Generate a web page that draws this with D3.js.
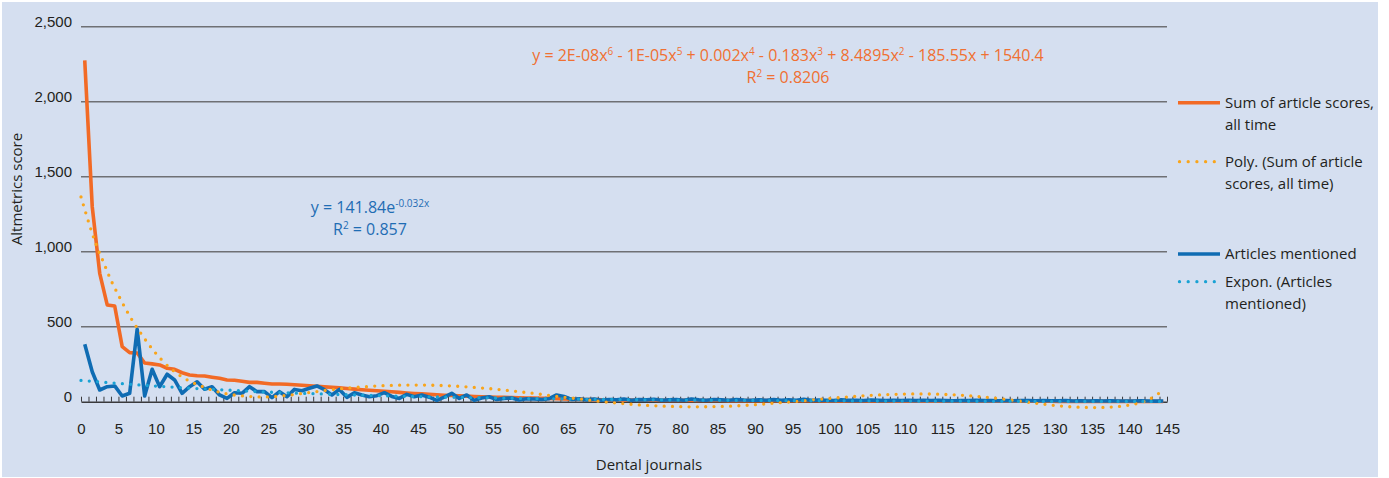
<!DOCTYPE html>
<html>
<head>
<meta charset="utf-8">
<script src="https://cdn.jsdelivr.net/npm/d3@7"></script>
<style>
  body { margin: 0; background: #ffffff; }
  svg { display: block; font-family: "Open Sans", sans-serif; }
  .tick text { fill: #231f20; font-size: 15px; }
</style>
</head>
<body>
<div class="chart"></div>
<script>
// journals are numbered 1..145 along the category axis
var journalIndex = d3.range(1, 146);

// Sum of article scores, all time
var sumScores = [
  2275, 1300, 856, 645, 638, 367, 327, 325, 258, 252,
  245, 223, 216, 193, 178, 173, 171, 163, 156, 145,
  143, 136, 129, 129, 123, 118, 118, 116, 113, 110,
  106, 103, 99, 96, 92, 88, 84, 80, 76, 73,
  70, 66, 62, 58, 55, 52, 49, 46, 43, 41,
  39, 37, 35, 33, 31, 30, 29, 27, 26, 25,
  24, 23, 22, 20, 19, 17, 16, 15, 14, 13,
  12, 12, 11, 11, 10, 10, 10, 9, 9, 9,
  9, 8, 8, 8, 8, 8, 7, 7, 7, 7,
  7, 7, 6, 6, 6, 6, 6, 6, 6, 5,
  5, 5, 5, 5, 5, 5, 5, 5, 4, 4,
  4, 4, 4, 4, 4, 4, 4, 4, 4, 3,
  3, 3, 3, 3, 3, 3, 3, 3, 3, 3,
  2, 2, 2, 2, 2, 2, 2, 2, 2, 2,
  2, 1, 1, 1, 1
];

// Articles mentioned
var articlesMentioned = [
  383, 200, 78, 100, 105, 38, 56, 483, 38, 216,
  100, 183, 145, 56, 100, 133, 83, 100, 45, 22,
  60, 56, 100, 67, 67, 27, 67, 33, 82, 73,
  90, 105, 80, 45, 82, 29, 60, 45, 33, 40,
  60, 35, 22, 49, 33, 45, 30, 9, 30, 56,
  22, 45, 9, 25, 33, 15, 22, 25, 12, 20,
  18, 15, 20, 45, 35, 15, 20, 12, 18, 10,
  15, 12, 18, 10, 14, 12, 16, 10, 12, 14,
  10, 18, 12, 10, 15, 12, 10, 14, 11, 10,
  12, 10, 14, 9, 12, 10, 16, 9, 11, 10,
  8, 12, 9, 10, 8, 11, 9, 8, 10, 8,
  9, 7, 10, 8, 9, 7, 6, 8, 7, 9,
  7, 8, 6, 7, 6, 8, 7, 6, 7, 6,
  6, 7, 5, 6, 5, 6, 5, 6, 5, 5,
  5, 6, 5, 4, 5
];

// trend lines (axis position, value)
var polyPos = [0, 1, 2, 3, 4, 5, 6, 7, 8, 9, 10, 12, 14, 16, 18, 20, 22.5, 25, 27.5, 30,
  32.5, 35, 37.5, 40, 42.5, 45, 47.5, 50, 52.5, 55, 57.5, 60, 62.5, 65, 67.5, 70,
  72.5, 75, 77.5, 80, 82.5, 85, 87.5, 90, 92.5, 95, 97.5, 100, 102.5, 105, 107.5,
  110, 112.5, 115, 117.5, 120, 122.5, 125, 127.5, 130, 132.5, 135, 137.5, 140,
  142.5, 144.5];
var polyVal = [1365, 1200, 1050, 930, 810, 710, 615, 530, 455, 385, 322, 220, 150, 105, 70, 48, 35, 32, 42, 58,
  74, 88, 98, 106, 110, 111, 109, 104, 95, 85, 72, 58, 42, 27, 13, -2,
  -13, -23, -29, -33, -34, -32, -28, -20, -10, 0, 11, 22, 32, 41, 47,
  51, 52, 49, 43, 34, 21, 6, -10, -25, -35, -39, -36, -22,
  12, 78];

var exponPos = [0, 5, 10, 15, 20, 25, 30, 35, 40, 45, 50, 55, 60, 70, 80, 90, 100, 110, 120, 130, 144.5];
var exponVal = [142, 122, 104, 89, 76, 64, 55, 47, 40, 34, 29, 25, 21, 15, 11, 8, 6, 4, 3, 2, 1.5];

var yTicks = [0, 500, 1000, 1500, 2000, 2500];
var xTicks = d3.range(0, 146, 5);

// equation pieces: [text, superscript]
var polyEquation = [["y = 2E-08x", "6"], [" - 1E-05x", "5"], [" + 0.002x", "4"], [" - 0.183x", "3"], [" + 8.4895x", "2"], [" - 185.55x + 1540.4", ""]];
var polyR2 = [["R", "2"], [" = 0.8206", ""]];
var exponEquation = [["y = 141.84e", "-0.032x"]];
var exponR2 = [["R", "2"], [" = 0.857", ""]];

var legendItems = [
  { lines: ["Sum of article scores,", "all time"], color: "#f26a25", dotted: false },
  { lines: ["Poly. (Sum of article", "scores, all time)"], color: "#f9a51b", dotted: true },
  { lines: ["Articles mentioned"], color: "#0f6cb3", dotted: false },
  { lines: ["Expon. (Articles", "mentioned)"], color: "#19a2d4", dotted: true }
];

var svgWidth = 1389, svgHeight = 478;

var svg = d3.select(".chart")
  .append("svg")
  .attr("width", svgWidth)
  .attr("height", svgHeight);

// background panel
svg.append("rect")
  .attr("x", 2).attr("y", 2)
  .attr("width", 1376).attr("height", 475)
  .attr("fill", "#d5dff0");

var x = d3.scaleLinear().domain([0, 145]).range([81, 1167]);
var y = d3.scaleLinear().domain([0, 2500]).range([401.7, 26.7]);

// horizontal gridlines
svg.append("g")
  .selectAll("line")
  .data(yTicks.filter(d => d > 0))
  .join("line")
    .attr("x1", x(0)).attr("x2", x(145))
    .attr("y1", d => y(d)).attr("y2", d => y(d))
    .attr("stroke", "#6f7074")
    .attr("stroke-width", 1.4);

// y axis labels
var yAxis = svg.append("g")
  .attr("transform", `translate(${x(0)},0)`)
  .call(d3.axisLeft(y).tickValues(yTicks).tickFormat(d3.format(",")).tickSize(0).tickPadding(9));
yAxis.select(".domain").remove();
yAxis.selectAll("text").attr("y", -5);

// minor ticks + axis line
var minor = svg.append("g")
  .attr("transform", `translate(0,${y(0)})`)
  .call(d3.axisBottom(x).tickValues(d3.range(0, 146)).tickSizeInner(-5).tickSizeOuter(0).tickFormat(""));
minor.select(".domain").attr("stroke", "#3a3a3c").attr("stroke-width", 1.4);
minor.selectAll(".tick line").attr("stroke", "#3a3a3c").attr("stroke-width", 1);

// x tick labels
var xAxis = svg.append("g")
  .attr("transform", `translate(0,${y(0)})`)
  .call(d3.axisBottom(x).tickValues(xTicks).tickSize(0).tickPadding(22));
xAxis.select(".domain").remove();

// series
var line = d3.line()
  .x((d, i) => x(journalIndex[i] - 0.5))
  .y(d => y(d));

svg.append("path")
  .datum(sumScores)
  .attr("fill", "none")
  .attr("stroke", "#f26a25")
  .attr("stroke-width", 3.6)
  .attr("stroke-linejoin", "round")
  .attr("d", line);

svg.append("path")
  .datum(articlesMentioned)
  .attr("fill", "none")
  .attr("stroke", "#0f6cb3")
  .attr("stroke-width", 3.6)
  .attr("stroke-linejoin", "round")
  .attr("d", line);

// trendlines
var trend = d3.line()
  .x(d => x(d[0]))
  .y(d => y(d[1]));

svg.append("path")
  .datum(d3.zip(polyPos, polyVal))
  .attr("fill", "none")
  .attr("stroke", "#f9a51b")
  .attr("stroke-width", 3.3)
  .attr("stroke-linecap", "round")
  .attr("stroke-dasharray", "0 8.3")
  .attr("d", trend.curve(d3.curveCatmullRom));

svg.append("path")
  .datum(d3.zip(exponPos, exponVal))
  .attr("fill", "none")
  .attr("stroke", "#19a2d4")
  .attr("stroke-width", 3.3)
  .attr("stroke-linecap", "round")
  .attr("stroke-dasharray", "0 8.3")
  .attr("d", trend.curve(d3.curveMonotoneX));

// trendline equations (superscripts shifted with relative dy)
function equation(parts, cx, cy, color) {
  var t = svg.append("text")
    .attr("x", cx).attr("y", cy)
    .attr("text-anchor", "middle")
    .attr("fill", color)
    .style("font-size", "16px");
  var raised = false;
  parts.forEach(function (p) {
    t.append("tspan").attr("dy", raised ? 6 : 0).text(p[0]);
    raised = false;
    if (p[1]) {
      t.append("tspan").attr("dy", -6).style("font-size", "10px").text(p[1]);
      raised = true;
    }
  });
}
equation(polyEquation, 788, 61, "#f07032");
equation(polyR2, 788, 82.5, "#f07032");
equation(exponEquation, 370, 213, "#1f6db4");
equation(exponR2, 370, 235, "#1f6db4");

// legend
var legendY = [102.7, 161.7, 254, 281.7];
var legend = svg.append("g");
legendItems.forEach(function (item, i) {
  var g = legend.append("g").attr("transform", `translate(0,${legendY[i]})`);
  if (item.dotted) {
    g.append("line")
      .attr("x1", 1179.5).attr("x2", 1215)
      .attr("stroke", item.color)
      .attr("stroke-width", 3.3)
      .attr("stroke-linecap", "round")
      .attr("stroke-dasharray", "0 8.7");
  } else {
    g.append("line")
      .attr("x1", 1178).attr("x2", 1220)
      .attr("stroke", item.color)
      .attr("stroke-width", 3.6);
  }
  item.lines.forEach(function (t, j) {
    g.append("text")
      .attr("x", 1225)
      .attr("y", j * 22)
      .attr("dy", "0.36em")
      .attr("fill", "#231f20")
      .style("font-size", "15px")
      .text(t);
  });
});

// axis titles
svg.append("text")
  .attr("transform", "translate(17,189) rotate(-90)")
  .attr("dy", "0.36em")
  .attr("text-anchor", "middle")
  .attr("fill", "#231f20")
  .style("font-size", "15px")
  .text("Altmetrics score");

svg.append("text")
  .attr("x", 649).attr("y", 470)
  .attr("text-anchor", "middle")
  .attr("fill", "#231f20")
  .style("font-size", "15px")
  .text("Dental journals");
</script>
</body>
</html>
